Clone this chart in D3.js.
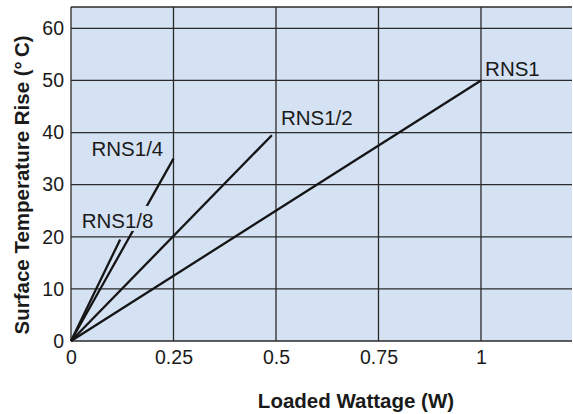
<!DOCTYPE html>
<html lang="en">
<head>
  <meta charset="UTF-8">
  <title>Surface Temperature Rise</title>
  <script src="https://d3js.org/d3.v7.min.js"></script>
  <style>
    body {
      margin: 0;
      background: #fff;
      font-family: "Liberation Sans", Arial, sans-serif;
    }

    svg {
      display: block;
    }

    .tick text {
      font-size: 19.5px;
      fill: #1a1a1a;
    }

    .axis-title {
      font-size: 20.5px;
      font-weight: bold;
      fill: #1a1a1a;
    }

    .series-label {
      font-size: 20.5px;
      fill: #1a1a1a;
    }
  </style>
</head>
<body>
  <svg id="chart"></svg>
  <script>
    // Series: each runs straight from the origin to its end point
    const series = ["RNS1", "RNS1/2", "RNS1/4", "RNS1/8"];
    const endWatts = [1, 0.49, 0.25, 0.12];
    const endRise = [50, 39.5, 35, 19.5];

    const xTicks = [0, 0.25, 0.5, 0.75, 1];
    const xTickLabels = ["0", "0.25", "0.5", "0.75", "1"];
    const yTicks = [0, 10, 20, 30, 40, 50, 60];

    // where each label sits, in data units (left edge, baseline)
    const labelWatts = [1.01, 0.512, 0.05, 0.026];
    const labelRise = [50.9, 41.5, 35.5, 21.7];

    const width = 573;
    const height = 414;
    const margin = { top: 7, right: 1, bottom: 73, left: 71 };
    const plotW = width - margin.left - margin.right;
    const plotH = height - margin.top - margin.bottom;
    const bg = "#d5e2f3";

    const svg = d3.select("#chart")
      .attr("width", width)
      .attr("height", height);

    const x = d3.scaleLinear()
      .domain([0, 1.222])
      .range([margin.left, margin.left + plotW]);

    const y = d3.scaleLinear()
      .domain([0, 64.1])
      .range([margin.top + plotH, margin.top]);

    // Plot background
    svg.append("rect")
      .attr("x", x(0))
      .attr("y", y(64.1))
      .attr("width", plotW)
      .attr("height", plotH)
      .attr("fill", bg);

    // Grid
    const grid = svg.append("g").attr("stroke", "#2a2a2a").attr("stroke-width", 1.3);

    grid.selectAll(".vgrid")
      .data(xTicks)
      .join("line")
      .attr("x1", d => x(d))
      .attr("x2", d => x(d))
      .attr("y1", y(0))
      .attr("y2", y(64.1));

    grid.selectAll(".hgrid")
      .data(yTicks.concat([64.1]))
      .join("line")
      .attr("x1", x(0))
      .attr("x2", x(1.222))
      .attr("y1", d => y(d))
      .attr("y2", d => y(d));

    // Axes (labels only, the grid draws the lines)
    const xAxis = d3.axisBottom(x)
      .tickValues(xTicks)
      .tickFormat((d, i) => xTickLabels[i])
      .tickSize(0)
      .tickPadding(9);

    svg.append("g")
      .attr("transform", `translate(0, ${y(0)})`)
      .call(xAxis)
      .call(g => g.select(".domain").remove());

    const yAxis = d3.axisLeft(y)
      .tickValues(yTicks)
      .tickSize(0)
      .tickPadding(7);

    svg.append("g")
      .attr("transform", `translate(${x(0)}, 0)`)
      .call(yAxis)
      .call(g => g.select(".domain").remove());

    svg.selectAll(".tick text").attr("font-family", null);

    // Lines
    const line = d3.line()
      .x(d => x(d[0]))
      .y(d => y(d[1]));

    svg.append("g")
      .selectAll("path")
      .data(series.map((s, i) => [[0, 0], [endWatts[i], endRise[i]]]))
      .join("path")
      .attr("d", line)
      .attr("fill", "none")
      .attr("stroke", "#151515")
      .attr("stroke-width", 2.3)
      .attr("stroke-linecap", "butt");

    // Series labels, with a knockout behind so lines break around them
    const labels = svg.append("g");
    series.forEach((s, i) => {
      const t = labels.append("text")
        .attr("class", "series-label")
        .attr("x", x(labelWatts[i]))
        .attr("y", y(labelRise[i]))
        .text(s);
      const bb = t.node().getBBox();
      const base = y(labelRise[i]);
      labels.insert("rect", "text")
        .attr("x", bb.x - 1)
        .attr("y", base - 22)
        .attr("width", bb.width + 2)
        .attr("height", 25)
        .attr("fill", bg);
    });

    // Axis titles
    svg.append("text")
      .attr("class", "axis-title")
      .attr("x", 356)
      .attr("y", 408)
      .attr("text-anchor", "middle")
      .text("Loaded Wattage (W)");

    svg.append("text")
      .attr("class", "axis-title")
      .attr("transform", "translate(29, 185) rotate(-90)")
      .attr("text-anchor", "middle")
      .text("Surface Temperature Rise (°\u2009C)");
  </script>
</body>
</html>
